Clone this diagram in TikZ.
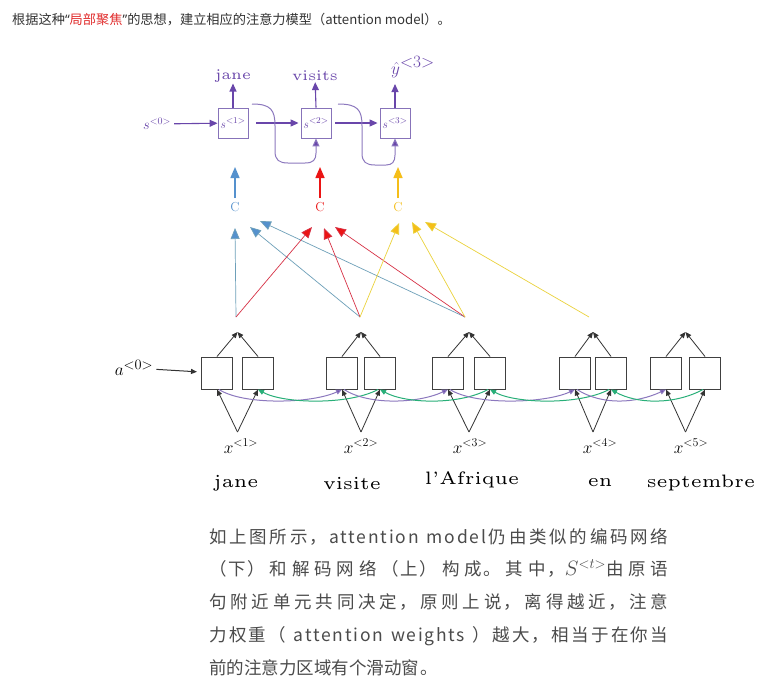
\documentclass[tikz,border=0pt]{standalone}
\usepackage{fontspec}
\usetikzlibrary{arrows.meta}
\newfontfamily\cjk{Noto Sans CJK SC}
\newfontfamily\cjksp[LetterSpace=10]{Noto Sans CJK SC}
\newfontfamily\latinq{Noto Sans}
\font\wordfont=cmr5 at 18pt
\font\wordfontsm=cmr5 at 14.5pt
\definecolor{pur}{RGB}{105,70,170}
\definecolor{purline}{RGB}{140,120,190}
\definecolor{pbox}{RGB}{135,115,185}
\definecolor{cblue}{RGB}{85,145,205}
\definecolor{cbline}{RGB}{110,160,185}
\definecolor{cred}{RGB}{235,20,20}
\definecolor{crline}{RGB}{215,50,70}
\definecolor{cyel}{RGB}{245,190,25}
\definecolor{cyline}{RGB}{235,210,60}
\definecolor{cgreen}{RGB}{40,175,120}
\definecolor{txtgray}{RGB}{75,75,75}
\definecolor{titlered}{RGB}{225,45,45}
\tikzset{
  sbox/.style={draw=pbox, line width=0.9pt, minimum width=30pt, minimum height=30pt, inner sep=0pt, text=pur},
  ebox/.style={draw=black!75, line width=1pt, minimum width=31pt, minimum height=32pt, inner sep=0pt},
  parr/.style={draw=pur, line width=1.1pt, -{Triangle[length=8pt,width=7pt,fill=pur]}},
  pcurve/.style={draw=purline, line width=1pt, -{Triangle[length=8pt,width=7pt,fill=pur]}},
  clabel/.style={inner sep=0pt, font=\fontsize{13}{14}\selectfont},
  carr/.style={line width=1.5pt, -{Triangle[length=11pt,width=9pt]}},
  attblue/.style={draw=cbline, line width=0.7pt, -{Triangle[length=11pt,width=9pt,fill=cblue]}},
  attred/.style={draw=crline, line width=0.7pt, -{Triangle[length=11pt,width=9pt,fill=cred]}},
  attyel/.style={draw=cyline, line width=0.7pt, -{Triangle[length=11pt,width=9pt,fill=cyel]}},
  karr/.style={draw=black!80, line width=0.8pt, -{Triangle[length=6pt,width=5pt]}},
  fwd/.style={draw=purline, line width=1pt, -{Triangle[length=6pt,width=5pt,fill=pur]}},
  bwd/.style={draw=cgreen, line width=1pt, -{Triangle[length=6pt,width=5pt,fill=cgreen]}},
}
\begin{document}
\begin{tikzpicture}[x=1pt,y=-1pt]
\useasboundingbox (0,0) rectangle (775,689);
\fill[white] (0,0) rectangle (775,689);

% title
\node[anchor=west, inner sep=0pt, text=black!80, font=\cjk\fontsize{13.2}{16}\selectfont] (title) at (12,20)
  {根据这种{\latinq “}{\color{titlered}局部聚焦}{\latinq ”}的思想，建立相应的注意力模型（attention model）。};

% decoder
\node[sbox] (s1) at (233,123) {\fontsize{13}{14}\selectfont$s^{<1>}$};
\node[sbox] (s2) at (316,123) {\fontsize{13}{14}\selectfont$s^{<2>}$};
\node[sbox] (s3) at (395,123) {\fontsize{13}{14}\selectfont$s^{<3>}$};
\node[text=pur, inner sep=0pt, font=\fontsize{14}{15}\selectfont] (s0) at (157,124) {$s^{<0>}$};
\node[text=pur, inner sep=1pt, font=\wordfontsm] (yj) at (233,76) {jane};
\node[text=pur, inner sep=1pt, font=\wordfontsm] (yv) at (315,76) {visits};
\node[text=pur, inner sep=0pt, font=\fontsize{19}{22}\selectfont] (yh) at (413,67) {$\hat{y}^{\textstyle{<}3{>}}$};
\coordinate (yht) at (395,84);

\draw[parr, shorten <=3pt] (s0) -- (s1);
\draw[parr, shorten <=8pt, shorten >=2pt] (s1) -- (s2);
\draw[parr, shorten <=4pt, shorten >=2pt] (s2) -- (s3);
\draw[parr] (s1.north) -- (yj);
\draw[parr] (s2.north) -- (yv);
\draw[parr] (s3.north) -- (yht);

\coordinate (k1) at (252,104);
\coordinate (k2) at (338,104);
\draw[pcurve] (k1) .. controls (271,104) and (275,110) .. (275,126) -- (275,151)
  .. controls (275,160) and (279,163) .. (288,163) -- (305,163)
  .. controls (313,163) and (316,160) .. (316,153) -- (s2.south);
\draw[pcurve] (k2) .. controls (358,104) and (362,110) .. (362,126) -- (362,153)
  .. controls (362,162) and (366,165) .. (375,165) -- (386,165)
  .. controls (392,165) and (395,162) .. (395,155) -- (s3.south);

% context vectors
\node[clabel, text=cblue] (cb) at (235,207) {C};
\node[clabel, text=cred] (cr) at (320,207) {C};
\node[clabel, text=cyel] (cy) at (398,207) {C};
\coordinate (cbt) at (235,167);
\coordinate (crt) at (320,167);
\coordinate (cyt) at (398,167);
\draw[carr, draw=cblue, fill=cblue, shorten <=4pt] (cb) -- (cbt);
\draw[carr, draw=cred, fill=cred, shorten <=4pt] (cr) -- (crt);
\draw[carr, draw=cyel, fill=cyel, shorten <=4pt] (cy) -- (cyt);

% attention sources
\coordinate (e1) at (236,317);
\coordinate (e2) at (360,317);
\coordinate (e3) at (465,317);
\coordinate (e4) at (589,317);
\coordinate (b1) at (235,228);
\coordinate (b2) at (250,227);
\coordinate (b3) at (260,221);
\coordinate (r1) at (312,227);
\coordinate (r2) at (324,228);
\coordinate (r3) at (335,227);
\coordinate (y1) at (399,223);
\coordinate (y2) at (412,222);
\coordinate (y3) at (425,222);
\draw[attblue] (e1) -- (b1);
\draw[attblue] (e2) -- (b2);
\draw[attblue] (e3) -- (b3);
\draw[attred] (e1) -- (r1);
\draw[attred] (e2) -- (r2);
\draw[attred] (e3) -- (r3);
\draw[attyel] (e2) -- (y1);
\draw[attyel] (e3) -- (y2);
\draw[attyel] (e4) -- (y3);

% encoder
\foreach \i/\lx/\rx in {1/217/258, 2/342/380, 3/448/490, 4/575/611, 5/666/705}{
  \node[ebox] (L\i) at (\lx,373) {};
  \node[ebox] (R\i) at (\rx,373) {};
  \coordinate (T\i) at ({(\lx+\rx)/2},332);
  \coordinate (B\i) at ({(\lx+\rx)/2},432);
  \draw[karr] (L\i.north) -- (T\i);
  \draw[karr] (R\i.north) -- (T\i);
  \draw[karr] (B\i) -- (L\i.south);
  \draw[karr] (B\i) -- (R\i.south);
}
\foreach \a/\b in {1/2, 2/3, 3/4, 4/5}{
  \draw[fwd] ([xshift=2pt]L\a.south) .. controls +(25,16) and +(-30,14) .. (L\b.south);
  \draw[bwd] ([xshift=-2pt]R\b.south) .. controls +(-30,16) and +(25,14) .. (R\a.south);
}

\node[inner sep=0pt, font=\fontsize{19}{20}\selectfont] (a0) at (134,368) {$a^{<0>}$};
\draw[karr, line width=1pt, shorten <=3pt, shorten >=4pt] (a0) -- (L1);

% inputs
\node[inner sep=0pt, font=\fontsize{17}{18}\selectfont] (x1) at (241,446) {$x^{<1>}$};
\node[inner sep=0pt, font=\fontsize{17}{18}\selectfont] (x2) at (361,446) {$x^{<2>}$};
\node[inner sep=0pt, font=\fontsize{17}{18}\selectfont] (x3) at (470,446) {$x^{<3>}$};
\node[inner sep=0pt, font=\fontsize{17}{18}\selectfont] (x4) at (600,446) {$x^{<4>}$};
\node[inner sep=0pt, font=\fontsize{17}{18}\selectfont] (x5) at (691,446) {$x^{<5>}$};
\node[inner sep=0pt, font=\wordfont] (w1) at (236,483) {jane};
\node[inner sep=0pt, font=\wordfont] (w2) at (352,483) {visite};
\node[inner sep=0pt, font=\wordfont] (w3) at (472,480) {l'Afrique};
\node[inner sep=0pt, font=\wordfont] (w4) at (600,483) {en};
\node[inner sep=0pt, font=\wordfont] (w5) at (701,483) {septembre};

% paragraph
\node[anchor=north west, inner sep=0pt, text=txtgray, text width=459pt, align=justify,
      font=\cjksp\fontsize{17.5}{32.75}\selectfont] (para) at (209,528)
 {\XeTeXlinebreaklocale "zh"\XeTeXlinebreakskip=0pt plus 3pt\relax
  如上图所示，attention model仍由类似的编码网络\linebreak
  （下）和解码网络（上）构成。其中，{\fontsize{21}{21}\selectfont$S^{<t>}$}由原语\linebreak
  句附近单元共同决定，原则上说，离得越近，注意\linebreak
  力权重（ attention weights ）越大，相当于在你当\linebreak
  前的注意力区域有个滑动窗。};
\end{tikzpicture}
\end{document}
